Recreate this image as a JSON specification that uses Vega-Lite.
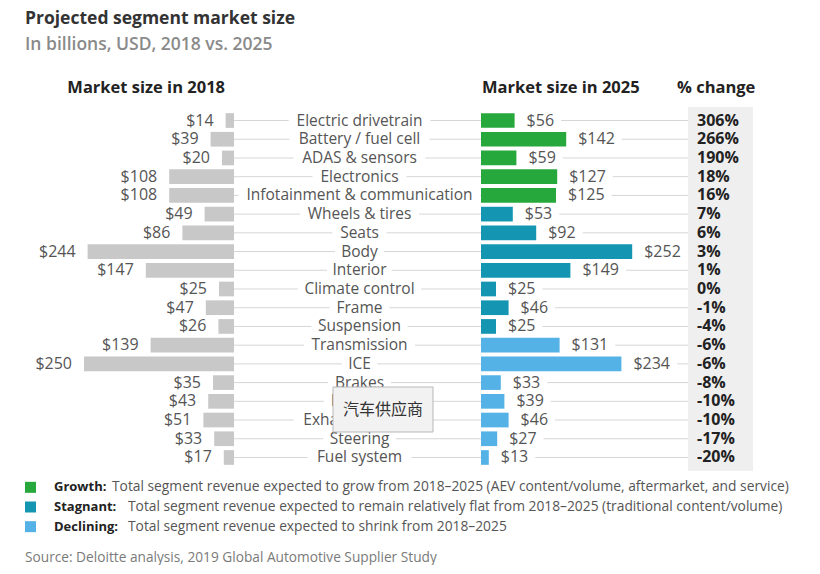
{
  "$schema": "https://vega.github.io/schema/vega-lite/v6.json",
  "background": "white",
  "padding": {"left": 0, "top": 10, "right": 0, "bottom": 0},
  "title": {
    "text": "Projected segment market size",
    "subtitle": "In billions, USD, 2018 vs. 2025",
    "anchor": "start",
    "frame": "group",
    "dx": 25,
    "font": "Open Sans",
    "fontSize": 17.5,
    "fontWeight": "bold",
    "color": "#333333",
    "subtitleFont": "Open Sans",
    "subtitleFontSize": 17.5,
    "subtitleFontWeight": 600,
    "subtitleColor": "#8a8a8a",
    "subtitlePadding": 8,
    "offset": 26.5
  },
  "config": {
    "font": "Open Sans",
    "view": {"stroke": null},
    "locale": {
      "number": {"decimal": ".", "thousands": ",", "grouping": [3], "currency": ["$", ""], "minus": "-"}
    }
  },
  "datasets": {
    "segments": [
      {"segment": "Electric drivetrain", "v2018": 14, "v2025": 56, "pct": 3.06, "trend": "Growth"},
      {"segment": "Battery / fuel cell", "v2018": 39, "v2025": 142, "pct": 2.66, "trend": "Growth"},
      {"segment": "ADAS & sensors", "v2018": 20, "v2025": 59, "pct": 1.90, "trend": "Growth"},
      {"segment": "Electronics", "v2018": 108, "v2025": 127, "pct": 0.18, "trend": "Growth"},
      {"segment": "Infotainment & communication", "v2018": 108, "v2025": 125, "pct": 0.16, "trend": "Growth"},
      {"segment": "Wheels & tires", "v2018": 49, "v2025": 53, "pct": 0.07, "trend": "Stagnant"},
      {"segment": "Seats", "v2018": 86, "v2025": 92, "pct": 0.06, "trend": "Stagnant"},
      {"segment": "Body", "v2018": 244, "v2025": 252, "pct": 0.03, "trend": "Stagnant"},
      {"segment": "Interior", "v2018": 147, "v2025": 149, "pct": 0.01, "trend": "Stagnant"},
      {"segment": "Climate control", "v2018": 25, "v2025": 25, "pct": 0, "trend": "Stagnant"},
      {"segment": "Frame", "v2018": 47, "v2025": 46, "pct": -0.01, "trend": "Stagnant"},
      {"segment": "Suspension", "v2018": 26, "v2025": 25, "pct": -0.04, "trend": "Stagnant"},
      {"segment": "Transmission", "v2018": 139, "v2025": 131, "pct": -0.06, "trend": "Declining"},
      {"segment": "ICE", "v2018": 250, "v2025": 234, "pct": -0.06, "trend": "Declining"},
      {"segment": "Brakes", "v2018": 35, "v2025": 33, "pct": -0.08, "trend": "Declining"},
      {"segment": "Lighting", "v2018": 43, "v2025": 39, "pct": -0.10, "trend": "Declining"},
      {"segment": "Exhaust system", "v2018": 51, "v2025": 46, "pct": -0.10, "trend": "Declining"},
      {"segment": "Steering", "v2018": 33, "v2025": 27, "pct": -0.17, "trend": "Declining"},
      {"segment": "Fuel system", "v2018": 17, "v2025": 13, "pct": -0.20, "trend": "Declining"}
    ],
    "legendRows": [
      {"trend": "Growth", "label": "Growth:", "desc": "Total segment revenue expected to grow from 2018–2025 (AEV content/volume, aftermarket, and service)"},
      {"trend": "Stagnant", "label": "Stagnant:", "desc": "Total segment revenue expected to remain relatively flat from 2018–2025 (traditional content/volume)"},
      {"trend": "Declining", "label": "Declining:", "desc": "Total segment revenue expected to shrink from 2018–2025"}
    ],
    "overlay": [
      {"note": "汽车供应商"}
    ]
  },
  "spacing": 6.5,
  "vconcat": [
    {
      "spacing": 0,
      "bounds": "flush",
      "hconcat": [
        {
          "width": 234,
          "height": 364,
          "title": {"text": "Market size in 2018", "anchor": "end", "dx": -9, "dy": 7, "fontSize": 16.5, "fontWeight": "bold", "color": "#222222", "offset": 2, "baseline": "bottom"},
          "data": {"name": "segments"},
          "layer": [
            {
              "mark": {"type": "bar", "color": "#c8c8c8"},
              "encoding": {
                "y": {"field": "segment", "type": "nominal", "sort": null, "axis": null, "scale": {"type": "band", "paddingInner": 0.215, "paddingOuter": 0.33}},
                "x": {"field": "v2018", "type": "quantitative", "scale": {"domain": [0, 390], "nice": false, "reverse": true}, "axis": null}
              }
            },
            {
              "mark": {"type": "text", "align": "right", "baseline": "middle", "dx": -12, "fontSize": 16, "color": "#555555"},
              "encoding": {
                "y": {"field": "segment", "type": "nominal", "sort": null, "axis": null},
                "x": {"field": "v2018", "type": "quantitative"},
                "text": {"field": "v2018", "type": "quantitative", "format": "$.0f"}
              }
            }
          ]
        },
        {
          "width": 247,
          "height": 364,
          "layer": [
            {
              "data": {"name": "segments"},
              "mark": {"type": "rule", "color": "#d6d6d6", "strokeWidth": 1, "x": {"expr": "0"}, "x2": {"expr": "118.5 - 7.75*(0.56*length(datum.segment) - 0.3*length(replace(datum.segment, regexp('[^ilIj.,]', 'g'), '')) - 0.2*length(replace(datum.segment, regexp('[^tfr /]', 'g'), '')) + 0.35*length(replace(datum.segment, regexp('[^mw&]', 'g'), '')))"}},
              "encoding": {
                "y": {"field": "segment", "type": "nominal", "sort": null, "axis": null, "scale": {"type": "band", "paddingInner": 0.215, "paddingOuter": 0.33}}
              }
            },
            {
              "data": {"name": "segments"},
              "mark": {"type": "rule", "color": "#d6d6d6", "strokeWidth": 1, "x": {"expr": "132.5 + 7.75*(0.56*length(datum.segment) - 0.3*length(replace(datum.segment, regexp('[^ilIj.,]', 'g'), '')) - 0.2*length(replace(datum.segment, regexp('[^tfr /]', 'g'), '')) + 0.35*length(replace(datum.segment, regexp('[^mw&]', 'g'), '')))"}, "x2": {"expr": "247"}},
              "encoding": {
                "y": {"field": "segment", "type": "nominal", "sort": null, "axis": null}
              }
            },
            {
              "data": {"name": "segments"},
              "mark": {"type": "text", "baseline": "middle", "dx": 2, "fontSize": 15.5, "color": "#555555"},
              "encoding": {
                "y": {"field": "segment", "type": "nominal", "sort": null, "axis": null},
                "text": {"field": "segment"}
              }
            },
            {
              "data": {"name": "overlay"},
              "mark": {"type": "rect", "fill": "#f2f2f2", "stroke": "#b8b8b8", "strokeWidth": 1, "x": 99, "x2": 199, "y": 280, "y2": 325},
              "encoding": {}
            },
            {
              "data": {"name": "overlay"},
              "mark": {"type": "text", "font": "Noto Sans CJK SC", "fontSize": 16, "color": "#333333", "baseline": "middle", "x": 149, "y": 302.5},
              "encoding": {"text": {"field": "note"}}
            }
          ]
        },
        {
          "width": 207,
          "height": 364,
          "title": {"text": "Market size in 2025", "anchor": "start", "dx": 1, "dy": 7, "fontSize": 16.5, "fontWeight": "bold", "color": "#222222", "offset": 2, "baseline": "bottom"},
          "data": {"name": "segments"},
          "encoding": {
            "y": {"field": "segment", "type": "nominal", "sort": null, "axis": null, "scale": {"type": "band", "paddingInner": 0.215, "paddingOuter": 0.33}}
          },
          "layer": [
            {
              "mark": {"type": "rule", "color": "#d6d6d6", "strokeWidth": 1, "xOffset": {"expr": "19 + 9.15*(1 + length(toString(datum.v2025)))"}},
              "encoding": {
                "x": {"field": "v2025", "type": "quantitative", "scale": {"domain": [0, 345], "nice": false}, "axis": null},
                "x2": {"datum": 345}
              }
            },
            {
              "mark": {"type": "bar"},
              "encoding": {
                "x": {"field": "v2025", "type": "quantitative"},
                "color": {"field": "trend", "type": "nominal", "scale": {"domain": ["Growth", "Stagnant", "Declining"], "range": ["#27a83c", "#1496b3", "#55b2e6"]}, "legend": null}
              }
            },
            {
              "mark": {"type": "text", "align": "left", "baseline": "middle", "dx": 12, "fontSize": 16, "color": "#555555"},
              "encoding": {
                "x": {"field": "v2025", "type": "quantitative"},
                "text": {"field": "v2025", "type": "quantitative", "format": "$.0f"}
              }
            }
          ]
        },
        {
          "width": 65,
          "height": 364,
          "view": {"fill": "#efefef", "stroke": null},
          "title": {"text": "% change", "anchor": "start", "dx": -11, "dy": 7, "fontSize": 16.5, "fontWeight": "bold", "color": "#222222", "offset": 2, "baseline": "bottom"},
          "data": {"name": "segments"},
          "mark": {"type": "text", "align": "left", "baseline": "middle", "dx": -23.5, "fontSize": 16, "fontWeight": "bold", "color": "#222222"},
          "encoding": {
            "y": {"field": "segment", "type": "nominal", "sort": null, "axis": null, "scale": {"type": "band", "paddingInner": 0.215, "paddingOuter": 0.33}},
            "text": {"field": "pct", "type": "quantitative", "format": ".0%"}
          }
        }
      ]
    },
    {
      "width": 800,
      "height": 59,
      "data": {"name": "legendRows"},
      "title": {"text": "Source: Deloitte analysis, 2019 Global Automotive Supplier Study", "orient": "bottom", "anchor": "start", "dx": 25, "fontSize": 13.7, "fontWeight": "normal", "color": "#7a7a7a", "offset": 14},
      "encoding": {
        "y": {"field": "trend", "type": "nominal", "sort": null, "axis": null, "scale": {"type": "point", "padding": 0.5}}
      },
      "layer": [
        {
          "mark": {"type": "square", "size": 121, "opacity": 1, "x": 30.5},
          "encoding": {
            "color": {"field": "trend", "type": "nominal", "scale": {"domain": ["Growth", "Stagnant", "Declining"], "range": ["#27a83c", "#1496b3", "#55b2e6"]}, "legend": null}
          }
        },
        {
          "mark": {"type": "text", "align": "left", "baseline": "middle", "x": 54, "fontSize": 13, "fontWeight": "bold", "color": "#222222"},
          "encoding": {"text": {"field": "label"}}
        },
        {
          "mark": {"type": "text", "align": "left", "baseline": "middle", "x": 128, "dx": {"expr": "datum.trend === 'Growth' ? -16 : 0"}, "fontSize": 13.8, "color": "#555555"},
          "encoding": {"text": {"field": "desc"}}
        }
      ]
    }
  ]
}
